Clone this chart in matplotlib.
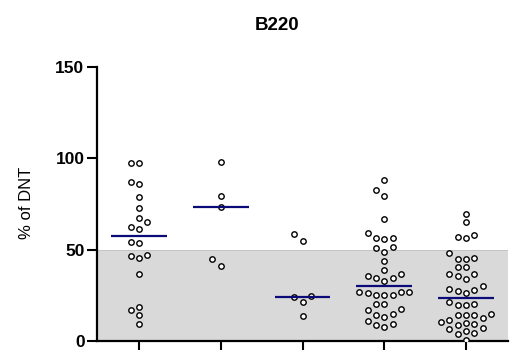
import numpy as np
import matplotlib
matplotlib.use('Agg')
import matplotlib.pyplot as plt

plt.rcParams['font.family'] = ['Liberation Sans', 'DejaVu Sans']

# data (% of DNT per subject)
groups = ['G1', 'G2', 'G3', 'G4', 'G5']
group1 = [97.4, 97.5, 87.2, 85.9, 78.6, 72.6, 67.5, 65.0, 62.6, 61.1, 54.2, 53.5,
          47.2, 46.5, 45.4, 36.5, 18.8, 17.0, 14.2, 9.3]
group2 = [98.0, 79.5, 73.3, 44.9, 41.0]
group3 = [58.6, 54.9, 24.4, 24.0, 21.5, 13.8]
group4 = [88.1, 82.6, 79.5, 66.6, 58.9, 56.4, 56.2, 56.0, 51.3, 51.1, 48.7, 43.6,
          38.9, 36.7, 35.7, 34.5, 34.3, 33.0, 27.0, 27.0, 27.0, 26.1, 25.2, 25.2,
          25.2, 20.3, 20.3, 17.3, 17.0, 14.8, 14.2, 13.3, 11.1, 9.1, 8.5, 7.8]
group5 = [69.5, 65.0, 58.0, 56.8, 56.2, 48.0, 45.3, 44.9, 44.9, 40.3, 40.3, 36.5,
          36.5, 35.7, 33.9, 30.3, 28.6, 27.9, 27.5, 26.1, 21.5, 20.3, 19.7, 19.7,
          14.6, 14.2, 14.2, 14.2, 12.8, 11.5, 10.3, 9.7, 9.4, 8.8, 7.3, 6.5,
          5.3, 4.5, 3.6, 0.5]
all_groups = [group1, group2, group3, group4, group5]

yticks = [0, 50, 100, 150]
band_top = 50

# pixel scale of the axes (used by the swarm layout)
XPX = 81.75   # px per category
YPX = 1.827   # px per % unit


def swarm_offsets(vals, step=8.3, diam=8.0):
    vals = np.asarray(vals, dtype=float)
    order = np.argsort(vals)
    offs = np.zeros(len(vals))
    placed = []
    for i in order:
        y = vals[i] * YPX
        for k in [0, -1, 1, -2, 2, -3, 3, -4, 4, -5, 5]:
            x = k * step
            if all((x - px) ** 2 + (y - py) ** 2 >= diam ** 2 for px, py in placed):
                break
        placed.append((x, y))
        offs[i] = x / XPX
    return offs


fig = plt.figure(figsize=(5.25, 3.59), dpi=100)
ax = fig.add_axes([97 / 525, 18 / 359, 411 / 525, 274 / 359])

ax.axhspan(0, band_top, facecolor='#d9d9d9', edgecolor='#bdbdbd', linewidth=0.6, zorder=0)

for i, vals in enumerate(all_groups):
    xs = i + swarm_offsets(vals)
    ax.plot(xs, vals, 'o', markersize=3.9, markerfacecolor='white',
            markeredgecolor='black', markeredgewidth=1.0, zorder=3)
    med = np.median(vals)
    ax.hlines(med, i - 0.34, i + 0.34, color='#0a0a78', linewidth=1.6, zorder=4)

ax.set_xlim(-0.514, 4.514)
ax.set_ylim(0, 150)
ax.set_yticks(yticks)
ax.set_xticks(range(len(groups)))
ax.set_xticklabels([])

for side in ['top', 'right']:
    ax.spines[side].set_visible(False)
for side in ['left', 'bottom']:
    ax.spines[side].set_linewidth(1.6)
ax.tick_params(axis='y', length=7, width=1.5, labelsize=12.5, pad=2)
ax.tick_params(axis='x', length=6.5, width=1.5)
for lbl in ax.get_yticklabels():
    lbl.set_fontweight('bold')

ax.set_ylabel('% of DNT', fontsize=12)
ax.yaxis.set_label_coords(-0.153, 0.504)

fig.text(277 / 525, 1 - 25 / 359, 'B220', fontsize=13.5, weight='bold',
         ha='center', va='center')

fig.savefig('out.png', dpi=100, facecolor='white')
